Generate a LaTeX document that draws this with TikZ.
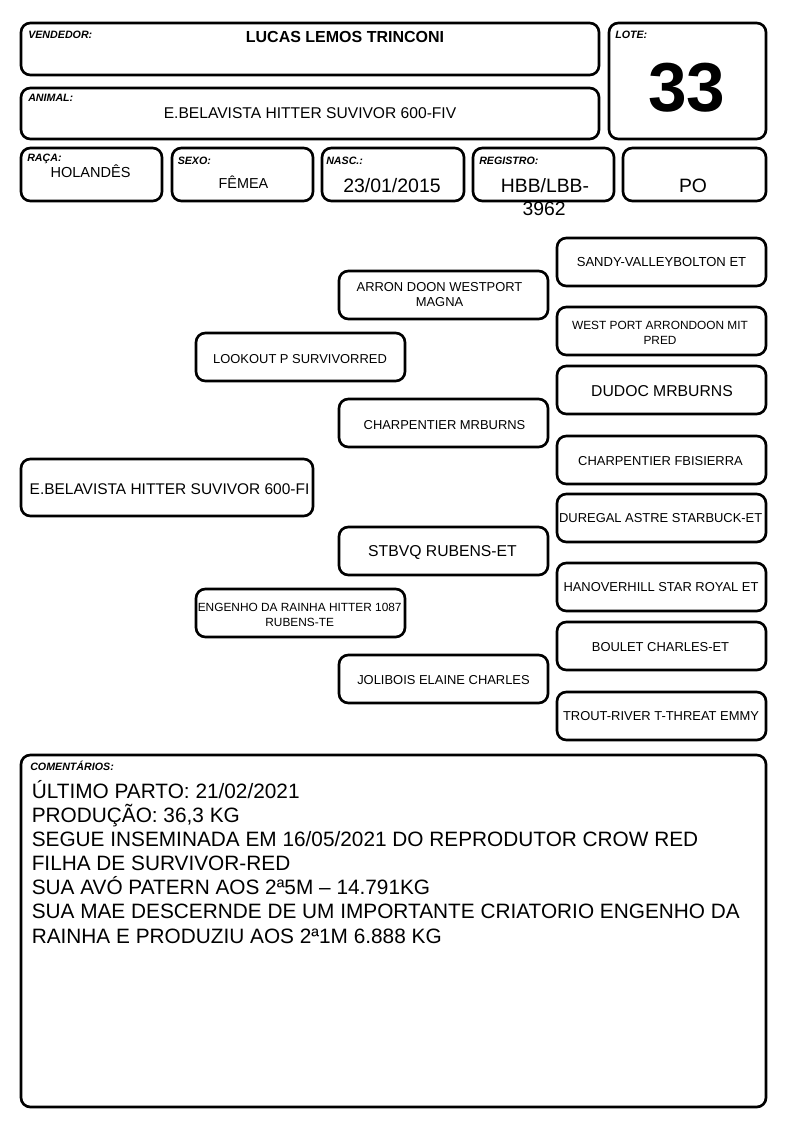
\documentclass[tikz,border=0pt]{standalone}
\usepackage{fontspec}
\setmainfont{Liberation Sans}
\begin{document}
\begin{tikzpicture}[x=0.75pt,y=-0.75pt,
  box/.style={draw=black,line width=2pt,rounded corners=7pt},
  lab/.style={font=\fontsize{8}{9}\selectfont\bfseries\itshape,anchor=base west,inner sep=0pt},
  tx/.style={anchor=base,inner sep=0pt},
  fs/.style={font=\fontsize{#1}{#1}\selectfont}]
\useasboundingbox[fill=white] (0,0) rectangle (794,1123);
% header boxes
\draw[box] (21,23) rectangle (599,75);
\draw[box] (21,88) rectangle (599,139);
\draw[box] (609,23) rectangle (766,139);
\draw[box] (21,148) rectangle (162,201);
\draw[box] (172,148) rectangle (313,201);
\draw[box] (322,148) rectangle (464,201);
\draw[box] (473,148) rectangle (614,201);
\draw[box] (623,148) rectangle (766,201);
\node[lab] (lvend) at (28,39) {VENDEDOR:};
\node[tx,font=\fontsize{12}{12}\selectfont\bfseries] (vend) at (345,43) {LUCAS LEMOS TRINCONI};
\node[lab] (lanim) at (28,102) {ANIMAL:};
\node[tx,fs=11.7] (anim) at (310,119) {E.BELAVISTA HITTER SUVIVOR 600-FIV};
\node[lab] (llote) at (615,39) {LOTE:};
\node[tx,font=\fontsize{52}{52}\selectfont\bfseries] (lote) at (687,112) {33};
\node[lab] (lraca) at (27,162) {RAÇA:};
\node[tx,fs=10.9] (raca) at (90.5,178) {HOLANDÊS};
\node[lab] (lsexo) at (177.5,165) {SEXO:};
\node[tx,fs=10.8] (sexo) at (243.5,189) {FÊMEA};
\node[lab] (lnasc) at (326,165) {NASC.:};
\node[tx,fs=14.6] (nasc) at (392,193) {23/01/2015};
\node[lab] (lreg) at (479,165) {REGISTRO:};
\node[tx,fs=14.5] (reg1) at (545,193) {HBB/LBB-};
\node[tx,fs=14.5] (reg2) at (544,215) {3962};
\node[tx,fs=14.5] (po) at (693,193) {PO};
% pedigree boxes
\draw[box] (557,238) rectangle (766,286);
\node[tx,fs=9.8] (p1) at (661.5,266) {SANDY-VALLEYBOLTON ET};
\draw[box] (339,271) rectangle (548,319);
\node[tx,fs=9.7] (p2a) at (439.5,291.5) {ARRON DOON WESTPORT};
\node[tx,fs=9.7] (p2b) at (439.5,306.5) {MAGNA};
\draw[box] (557,307) rectangle (766,355);
\node[tx,fs=8.9] (p3a) at (660,329.3) {WEST PORT ARRONDOON MIT};
\node[tx,fs=8.9] (p3b) at (660,344) {PRED};
\draw[box] (196,333) rectangle (405,381);
\node[tx,fs=9.7] (p4) at (300,363.3) {LOOKOUT P SURVIVORRED};
\draw[box] (557,366) rectangle (766,414);
\node[tx,fs=11.8] (p5) at (662,396) {DUDOC MRBURNS};
\draw[box] (339,399) rectangle (548,447);
\node[tx,fs=9.7] (p6) at (444.5,429) {CHARPENTIER MRBURNS};
\draw[box] (557,436) rectangle (766,484);
\node[tx,fs=9.7] (p7) at (660.5,465) {CHARPENTIER FBISIERRA};
\draw[box] (21,459) rectangle (313,516);
\node[tx,fs=11.6] (p8) at (169.5,494) {E.BELAVISTA HITTER SUVIVOR 600-FI};
\draw[box] (557,494) rectangle (766,542);
\node[tx,fs=9.7] (p9) at (660.7,522.7) {DUREGAL ASTRE STARBUCK-ET};
\draw[box] (339,527) rectangle (548,575);
\node[tx,fs=11.8] (p10) at (442.5,556) {STBVQ RUBENS-ET};
\draw[box] (557,563) rectangle (766,611);
\node[tx,fs=9.7] (p11) at (661,591.7) {HANOVERHILL STAR ROYAL ET};
\draw[box] (196,589) rectangle (405,637);
\node[tx,fs=8.9] (p12a) at (299.7,611.7) {ENGENHO DA RAINHA HITTER 1087};
\node[tx,fs=8.9] (p12b) at (299.7,626) {RUBENS-TE};
\draw[box] (557,622) rectangle (766,670);
\node[tx,fs=9.7] (p13) at (660.5,651) {BOULET CHARLES-ET};
\draw[box] (339,655) rectangle (548,703);
\node[tx,fs=9.7] (p14) at (443.5,684) {JOLIBOIS ELAINE CHARLES};
\draw[box] (557,692) rectangle (766,740);
\node[tx,fs=9.7] (p15) at (661,720.7) {TROUT-RIVER T-THREAT EMMY};
% comments
\draw[box] (21,755) rectangle (766,1107);
\node[lab] (lcom) at (30,770.5) {COMENTÁRIOS:};
\begin{scope}[every node/.style={anchor=base west,inner sep=0pt,font=\fontsize{15.6}{15.6}\selectfont}]
\node (c1) at (31.5,798.3) {ÚLTIMO PARTO: 21/02/2021};
\node (c2) at (31.5,822.5) {PRODUÇÃO: 36,3 KG};
\node (c3) at (31.5,846.6) {SEGUE INSEMINADA EM 16/05/2021 DO REPRODUTOR CROW RED};
\node (c4) at (31.5,870.7) {FILHA DE SURVIVOR-RED};
\node (c5) at (31.5,894.8) {SUA AVÓ PATERN AOS 2ª5M – 14.791KG};
\node (c6) at (31.5,918.9) {SUA MAE DESCERNDE DE UM IMPORTANTE CRIATORIO ENGENHO DA};
\node (c7) at (31.5,943.0) {RAINHA E PRODUZIU AOS 2ª1M 6.888 KG};
\end{scope}
\end{tikzpicture}
\end{document}
